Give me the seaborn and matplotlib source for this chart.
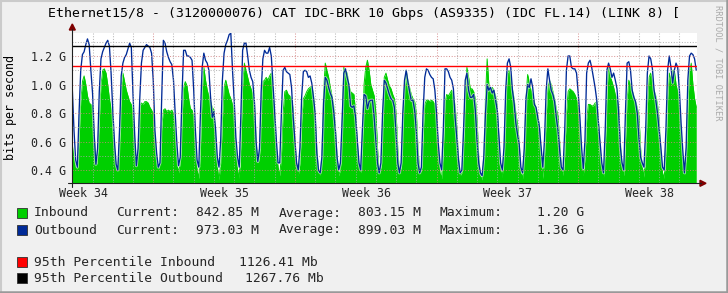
import numpy as np
import pandas as pd
import matplotlib
matplotlib.use("Agg")
import matplotlib.pyplot as plt
import seaborn as sns
from matplotlib.patches import Rectangle, Polygon
from matplotlib.lines import Line2D

# ---------------- data ----------------
TITLE = "Ethernet15/8 - (3120000076) CAT IDC-BRK 10 Gbps (AS9335) (IDC FL.14) (LINK 8) ["
week_labels = ["Week 34", "Week 35", "Week 36", "Week 37", "Week 38"]
week_label_pos = [0.53, 7.53, 14.53, 21.53, 28.53]   # days from left edge
week_major = [4, 11, 18, 25]
ytick_vals = [0.4, 0.6, 0.8, 1.0, 1.2]
ytick_labels = ["0.4 G", "0.6 G", "0.8 G", "1.0 G", "1.2 G"]
ytick_minor = [0.5, 0.7, 0.9, 1.1, 1.3]
samples_per_day = 12
p95_in = 1.12641   # Gbps
p95_out = 1.26776

# Gbps, 2-hour samples, one row of 12 per day
inbound = [
    0.58, 0.48, 0.42, 0.40, 0.62, 0.88, 1.02, 1.06, 1.00, 0.92, 0.87, 0.86,
    0.85, 0.65, 0.44, 0.52, 0.75, 1.00, 1.10, 1.11, 1.08, 1.00, 0.90, 0.83,
    0.78, 0.55, 0.42, 0.40, 0.60, 1.00, 1.08, 1.02, 0.96, 0.92, 0.88, 0.86,
    0.80, 0.60, 0.42, 0.55, 0.85, 0.87, 0.86, 0.88, 0.88, 0.87, 0.84, 0.82,
    0.80, 0.60, 0.45, 0.40, 0.45, 0.70, 0.82, 0.83, 0.81, 0.82, 0.81, 0.82,
    0.80, 0.65, 0.45, 0.38, 0.45, 0.75, 0.98, 1.02, 0.99, 0.90, 0.83, 0.82,
    0.78, 0.55, 0.40, 0.34, 0.55, 0.95, 1.12, 1.03, 0.96, 0.92, 0.88, 0.84,
    0.82, 0.62, 0.42, 0.33, 0.45, 0.75, 0.98, 1.03, 0.98, 0.93, 0.90, 0.86,
    0.80, 0.55, 0.40, 0.34, 0.60, 1.00, 1.15, 1.10, 1.05, 1.00, 0.97, 0.93,
    0.88, 0.60, 0.45, 0.50, 0.85, 1.02, 1.03, 1.05, 1.03, 1.06, 1.08, 0.95,
    0.78, 0.55, 0.42, 0.36, 0.50, 0.80, 0.95, 0.96, 0.93, 0.92, 0.90, 0.83,
    0.60, 0.45, 0.36, 0.45, 0.75, 0.90, 0.92, 0.95, 0.97, 0.98, 0.99, 0.93,
    0.78, 0.55, 0.40, 0.36, 0.50, 0.95, 1.15, 1.10, 1.05, 0.98, 0.92, 0.85,
    0.70, 0.50, 0.36, 0.40, 0.75, 1.12, 1.10, 1.08, 1.00, 0.95, 0.94, 0.93,
    0.80, 0.60, 0.42, 0.38, 0.60, 1.00, 1.12, 1.17, 1.10, 1.00, 0.96, 0.92,
    0.80, 0.55, 0.38, 0.42, 0.75, 1.05, 1.08, 1.03, 0.99, 0.97, 0.93, 0.90,
    0.80, 0.55, 0.38, 0.42, 0.75, 1.00, 1.10, 1.03, 0.98, 0.93, 0.90, 0.88,
    0.80, 0.55, 0.38, 0.40, 0.65, 0.86, 0.89, 0.89, 0.88, 0.89, 0.88, 0.86,
    0.80, 0.55, 0.38, 0.34, 0.55, 0.88, 0.93, 0.92, 0.94, 0.96, 0.93, 0.85,
    0.70, 0.50, 0.36, 0.38, 0.60, 0.95, 1.12, 1.05, 0.97, 0.97, 0.95, 0.90,
    0.75, 0.50, 0.36, 0.33, 0.50, 0.90, 1.18, 1.00, 0.95, 0.98, 0.96, 0.92,
    0.85, 0.60, 0.40, 0.35, 0.55, 0.90, 1.08, 1.10, 1.03, 0.97, 0.90, 0.80,
    0.72, 0.60, 0.38, 0.34, 0.55, 0.90, 1.07, 1.02, 0.96, 0.92, 0.88, 0.83,
    0.78, 0.72, 0.50, 0.34, 0.48, 0.78, 0.98, 1.03, 1.00, 0.95, 0.90, 0.83,
    0.78, 0.60, 0.42, 0.36, 0.50, 0.80, 0.95, 0.97, 0.96, 0.95, 0.93, 0.90,
    0.85, 0.65, 0.45, 0.36, 0.48, 0.75, 0.86, 0.86, 0.85, 0.85, 0.87, 0.88,
    0.75, 0.55, 0.40, 0.35, 0.55, 0.95, 1.12, 1.06, 1.02, 0.98, 0.93, 0.90,
    0.85, 0.60, 0.42, 0.36, 0.60, 0.90, 1.03, 1.00, 0.96, 0.92, 0.88, 0.84,
    0.78, 0.55, 0.42, 0.35, 0.50, 0.85, 1.05, 1.08, 1.02, 0.96, 0.92, 0.86,
    0.75, 0.50, 0.38, 0.34, 0.55, 0.90, 1.08, 1.03, 1.10, 1.10, 1.00, 0.95,
    0.88, 0.62, 0.45, 0.36, 0.50, 0.85, 1.10, 1.15, 1.00, 0.90, 0.84,
]
outbound = [
    0.97, 0.68, 0.47, 0.42, 0.80, 1.10, 1.21, 1.23, 1.28, 1.32, 1.28, 1.10,
    0.94, 0.65, 0.44, 0.55, 0.95, 1.18, 1.23, 1.26, 1.29, 1.31, 1.27, 1.08,
    0.82, 0.60, 0.44, 0.40, 0.68, 1.06, 1.15, 1.19, 1.21, 1.25, 1.29, 1.26,
    0.93, 0.65, 0.43, 0.55, 0.90, 1.15, 1.24, 1.26, 1.28, 1.27, 1.26, 1.22,
    1.03, 0.68, 0.52, 0.42, 0.45, 0.90, 1.31, 1.29, 1.23, 1.19, 1.16, 1.14,
    1.03, 0.80, 0.59, 0.43, 0.49, 0.91, 1.24, 1.24, 1.20, 1.20, 1.19, 1.17,
    0.96, 0.68, 0.47, 0.42, 0.80, 1.12, 1.22, 1.17, 1.15, 1.10, 0.91, 0.77,
    0.81, 0.68, 0.49, 0.42, 0.61, 1.03, 1.22, 1.28, 1.31, 1.35, 1.36, 1.10,
    0.89, 0.63, 0.49, 0.42, 0.80, 1.24, 1.29, 1.29, 1.20, 1.10, 1.05, 1.02,
    0.88, 0.60, 0.46, 0.55, 0.95, 1.18, 1.24, 1.22, 1.22, 1.26, 1.20, 1.00,
    0.80, 0.61, 0.45, 0.45, 0.80, 1.10, 1.12, 1.09, 1.08, 1.07, 0.98, 0.77,
    0.61, 0.45, 0.40, 0.56, 0.91, 1.09, 1.10, 1.09, 1.05, 1.06, 1.01, 0.91,
    0.80, 0.52, 0.40, 0.38, 0.49, 0.87, 1.05, 1.03, 0.98, 0.94, 0.91, 0.81,
    0.68, 0.49, 0.40, 0.45, 0.75, 1.08, 1.11, 1.05, 1.00, 0.85, 0.84, 0.85,
    0.77, 0.61, 0.45, 0.40, 0.68, 0.93, 0.92, 0.83, 0.88, 0.89, 0.89, 0.77,
    0.61, 0.45, 0.38, 0.45, 0.80, 1.03, 1.01, 0.97, 0.93, 0.90, 0.89, 0.84,
    0.66, 0.45, 0.38, 0.45, 0.80, 1.03, 1.10, 1.02, 0.95, 0.89, 0.89, 0.82,
    0.68, 0.45, 0.38, 0.42, 0.80, 1.05, 1.11, 1.10, 1.07, 1.05, 1.04, 0.96,
    0.80, 0.59, 0.45, 0.40, 0.68, 1.11, 1.11, 1.09, 1.05, 1.03, 0.97, 0.77,
    0.63, 0.47, 0.38, 0.40, 0.68, 1.03, 1.08, 0.96, 0.91, 0.91, 0.93, 0.82,
    0.61, 0.45, 0.38, 0.36, 0.49, 0.80, 1.00, 0.96, 0.98, 0.94, 0.96, 0.89,
    0.82, 0.63, 0.45, 0.40, 0.56, 0.96, 1.15, 1.18, 1.12, 0.96, 0.87, 0.73,
    0.65, 0.58, 0.42, 0.38, 0.55, 0.90, 1.00, 0.98, 1.04, 0.98, 0.86, 0.84,
    0.77, 0.70, 0.56, 0.42, 0.61, 0.96, 1.11, 1.03, 0.96, 0.93, 0.88, 0.77,
    0.68, 0.54, 0.42, 0.40, 0.68, 1.10, 1.20, 1.20, 1.12, 1.11, 1.11, 1.08,
    0.94, 0.77, 0.56, 0.41, 0.61, 1.08, 1.15, 1.17, 1.12, 1.05, 0.98, 0.89,
    0.73, 0.59, 0.45, 0.38, 0.68, 1.10, 1.15, 1.11, 1.05, 1.08, 1.03, 0.97,
    0.80, 0.56, 0.45, 0.40, 0.80, 1.15, 1.16, 1.10, 0.96, 0.91, 0.88, 0.80,
    0.63, 0.49, 0.45, 0.42, 0.68, 1.08, 1.20, 1.18, 1.11, 0.96, 0.89, 0.80,
    0.68, 0.56, 0.42, 0.40, 0.68, 1.10, 1.20, 1.12, 1.01, 1.10, 1.15, 1.12,
    0.96, 0.73, 0.54, 0.38, 0.56, 1.03, 1.20, 1.22, 1.21, 1.18, 1.10,
]

legend_rows = [
    ("Inbound", "842.85 M", "803.15 M", "1.20 G"),
    ("Outbound", "973.03 M", "899.03 M", "1.36 G"),
]
pct_rows = [
    ("95th Percentile Inbound", "1126.41 Mb"),
    ("95th Percentile Outbound", "1267.76 Mb"),
]

# ---------------- style ----------------
W, H = 728, 293
BG = "#F0F0F0"
GREEN = "#00CF00"
BLUE = "#002A97"
RED = "#FF0000"
MONO = ["DejaVu Sans Mono"]

sns.set_style("white")
plt.rcParams["font.family"] = MONO

df = pd.DataFrame({
    "day": np.arange(len(outbound)) / samples_per_day,
    "out": outbound,
    "inb": inbound,
})

fig = plt.figure(figsize=(W / 100, H / 100), dpi=100, facecolor=BG)

def fx(px):
    return px / W

def fy(py):
    return 1 - py / H

L, R, T, B = 72.3, 697.0, 33.0, 183.3
ax = fig.add_axes([fx(L), fy(B), fx(R) - fx(L), fy(T) - fy(B)])
ax.set_facecolor("white")

YMIN, YMAX = 0.3067, 1.3614
ax.fill_between(df["day"], df["inb"], YMIN - 0.1, color=GREEN, lw=0, zorder=2)
sns.lineplot(data=df, x="day", y="inb", ax=ax, color=GREEN, lw=0.7, zorder=2)
sns.lineplot(data=df, x="day", y="out", ax=ax, color="white", lw=2.2, alpha=0.55, zorder=3)
sns.lineplot(data=df, x="day", y="out", ax=ax, color=BLUE, lw=0.95, zorder=4)

ax.set_xlim(0, 30.87)
ax.set_ylim(YMIN, YMAX)

dot = (0, (1, 1.6))
GRAY_G = "#A8A8A8"
RED_G = "#D08080"
for v in ytick_minor:
    ax.axhline(v, color=GRAY_G, alpha=0.8, lw=0.75, ls=dot, zorder=5)
for v in ytick_vals:
    ax.axhline(v, color=RED_G, alpha=0.8, lw=0.75, ls=dot, zorder=5)
for d in range(1, 31):
    c = RED_G if d in week_major else GRAY_G
    ax.axvline(d, color=c, alpha=0.8, lw=0.75, ls=dot, zorder=5)

ax.axhline(p95_in, color=RED, lw=1.0, zorder=6)
ax.axhline(p95_out, color="black", lw=1.0, zorder=6)

ax.set_xlabel("")
ax.set_ylabel("")
ax.set_yticks(ytick_vals, ytick_labels)
ax.set_xticks(week_label_pos, week_labels)
ax.tick_params(axis="y", length=0, pad=4.5, labelsize=8.4)
ax.tick_params(axis="x", length=0, pad=2.5, labelsize=8.4)
for s in ax.spines.values():
    s.set_visible(False)

# axes lines with arrows
fig.add_artist(Line2D([fx(68), fx(701)], [fy(B), fy(B)], color="#202020", lw=0.8))
fig.add_artist(Line2D([fx(L), fx(L)], [fy(187), fy(29)], color="#202020", lw=0.8))
fig.add_artist(Polygon([[fx(700), fy(B - 3)], [fx(706), fy(B)], [fx(700), fy(B + 3)]],
                       closed=True, color="#7F0000", transform=fig.transFigure))
fig.add_artist(Polygon([[fx(L - 3), fy(30)], [fx(L), fy(24)], [fx(L + 3), fy(30)]],
                       closed=True, color="#7F0000", transform=fig.transFigure))

# frame
fig.add_artist(Line2D([0, 1], [fy(0.5), fy(0.5)], color="#CBCBCB", lw=1.5))
fig.add_artist(Line2D([fx(0.5), fx(0.5)], [0, 1], color="#CBCBCB", lw=1.5))
fig.add_artist(Line2D([0, 1], [fy(292), fy(292)], color="#999999", lw=1.8))
fig.add_artist(Line2D([fx(727), fx(727)], [0, 1], color="#999999", lw=1.8))

# texts
fig.text(fx(363.5), fy(14), TITLE, ha="center", va="center", fontsize=9.5, color="black")
fig.text(fx(10.5), fy(107.5), "bits per second", rotation=90, ha="center", va="center",
         fontsize=8.4, color="black")
fig.text(fx(718), fy(5), "RRDTOOL / TOBI OETIKER", rotation=270, ha="center", va="top",
         fontsize=6.2, color="#AAAAAA")

FS = 9.4
row_y = [213, 230]
box_cols = [GREEN, BLUE]
for (name, cur, avg, mx), y, c in zip(legend_rows, row_y, box_cols):
    fig.add_artist(Rectangle((fx(17), fy(y + 5)), fx(10), 10 / H, facecolor=c,
                             edgecolor="#303030", lw=0.6, transform=fig.transFigure))
    fig.text(fx(34), fy(y), name, ha="left", va="center", fontsize=FS)
    fig.text(fx(116), fy(y), "Current:", ha="left", va="center", fontsize=FS)
    fig.text(fx(196), fy(y), cur, ha="left", va="center", fontsize=FS)
    fig.text(fx(278.5), fy(y), "Average:", ha="left", va="center", fontsize=FS)
    fig.text(fx(358), fy(y), avg, ha="left", va="center", fontsize=FS)
    fig.text(fx(440), fy(y), "Maximum:", ha="left", va="center", fontsize=FS)
    fig.text(fx(537), fy(y), mx, ha="left", va="center", fontsize=FS)

pct_y = [262, 278]
pct_cols = [RED, "black"]
pct_val_x = [239, 245]
for (name, val), y, c, vx in zip(pct_rows, pct_y, pct_cols, pct_val_x):
    fig.add_artist(Rectangle((fx(17), fy(y + 5)), fx(10), 10 / H, facecolor=c,
                             edgecolor="#303030", lw=0.6, transform=fig.transFigure))
    fig.text(fx(34), fy(y), name, ha="left", va="center", fontsize=FS)
    fig.text(fx(vx), fy(y), val, ha="left", va="center", fontsize=FS)

fig.savefig("out.png", dpi=100, facecolor=BG)
